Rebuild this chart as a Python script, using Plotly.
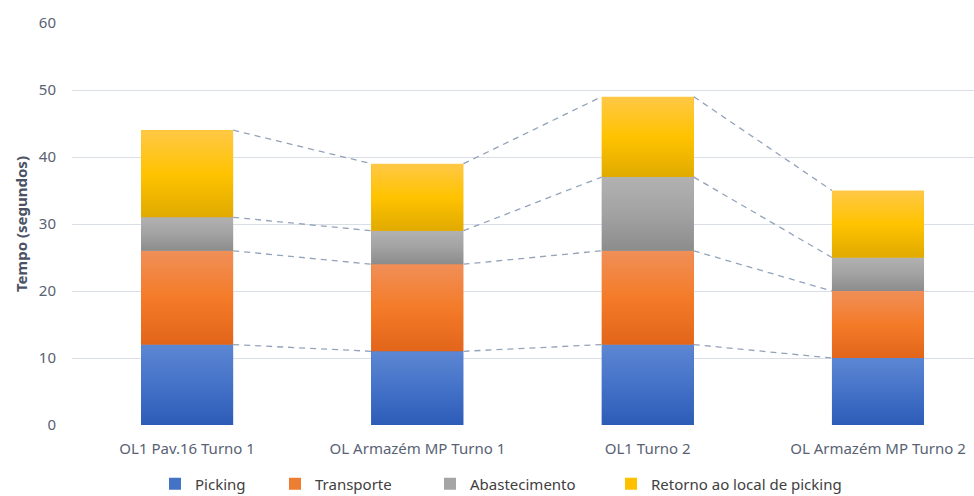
import plotly.graph_objects as go

categories = ["OL1 Pav.16 Turno 1", "OL Armazém MP Turno 1", "OL1 Turno 2", "OL Armazém MP Turno 2"]
picking = [12, 11, 12, 10]
transporte = [14, 13, 14, 10]
abastecimento = [5, 5, 11, 5]
retorno = [13, 10, 12, 10]
series_names = ["Picking", "Transporte", "Abastecimento", "Retorno ao local de picking"]
y_ticks = [0, 10, 20, 30, 40, 50, 60]

colors = ["#4472c4", "#ed7d31", "#a5a5a5", "#ffc000"]
gradients = [
    [[0, "#2d5cb8"], [0.5, "#4472c8"], [1, "#5d87d3"]],
    [[0, "#e2651a"], [0.5, "#f47b28"], [1, "#f08f58"]],
    [[0, "#8c8c8c"], [0.5, "#a2a2a2"], [1, "#b2b2b2"]],
    [[0, "#e0aa00"], [0.5, "#ffc300"], [1, "#ffc846"]],
]
legend_x = [155, 275, 430, 611]  # px positions of each legend box
series = [picking, transporte, abastecimento, retorno]
bar_w = 0.40
xs = list(range(len(categories)))
W, H = 974, 496

fig = go.Figure()
for k, (name, vals, col) in enumerate(zip(series_names, series, colors)):
    lg = "legend" if k == 0 else f"legend{k+1}"
    fig.add_trace(go.Bar(x=xs, y=vals, name=name, width=bar_w, legend=lg,
                         marker=dict(color=col, line=dict(color="white", width=0))))

# gradient overlays on each stacked segment (derived from the data)
cum = [0] * len(categories)
for k, vals in enumerate(series):
    for i in xs:
        b, t = cum[i], cum[i] + vals[i]
        x0, x1 = i - bar_w / 2, i + bar_w / 2
        fig.add_trace(go.Scatter(x=[x0, x1, x1, x0, x0], y=[b, b, t, t, b], mode="none",
                                 fill="toself", showlegend=False, hoverinfo="skip",
                                 fillgradient=dict(type="vertical", colorscale=gradients[k])))
    cum = [c + v for c, v in zip(cum, vals)]

# series lines connecting cumulative tops
cum = [0] * len(categories)
lx, ly = [], []
for vals in series:
    cum = [c + v for c, v in zip(cum, vals)]
    for i in range(len(categories) - 1):
        lx += [i + bar_w / 2, i + 1 - bar_w / 2, None]
        ly += [cum[i], cum[i + 1], None]
fig.add_trace(go.Scatter(x=lx, y=ly, mode="lines", showlegend=False, hoverinfo="skip",
                         line=dict(color="#93a3bb", width=1.3, dash="6px,5px")))

legend_common = dict(orientation="h", xref="container", yref="container",
                     yanchor="middle", xanchor="left", y=(H - 484) / H,
                     font=dict(size=15, color="#404040"), itemwidth=30,
                     bgcolor="rgba(0,0,0,0)")
layout_legends = {}
for k in range(4):
    key = "legend" if k == 0 else f"legend{k+1}"
    layout_legends[key] = dict(legend_common, x=legend_x[k] / W)

fig.update_layout(
    barmode="stack",
    width=W, height=H,
    margin=dict(l=72, r=0, t=23, b=71, autoexpand=False),
    plot_bgcolor="white", paper_bgcolor="white",
    font=dict(family="Noto Sans", size=15, color="#586274"),
    xaxis=dict(tickmode="array", tickvals=xs, ticktext=categories, range=[-0.5, 3.417],
               showgrid=False, zeroline=False, showline=False, ticks="",
               ticklabelstandoff=13),
    yaxis=dict(range=[0, 60], tickvals=y_ticks, showgrid=True, gridcolor="#d9dee7",
               gridwidth=1, zeroline=False, showline=False, ticks="", ticklabelstandoff=15,
               title=dict(text="<b>Tempo (segundos)</b>", font=dict(size=15, color="#4a5263"),
                          standoff=7)),
    **layout_legends,
)
fig.write_html("out.html")
